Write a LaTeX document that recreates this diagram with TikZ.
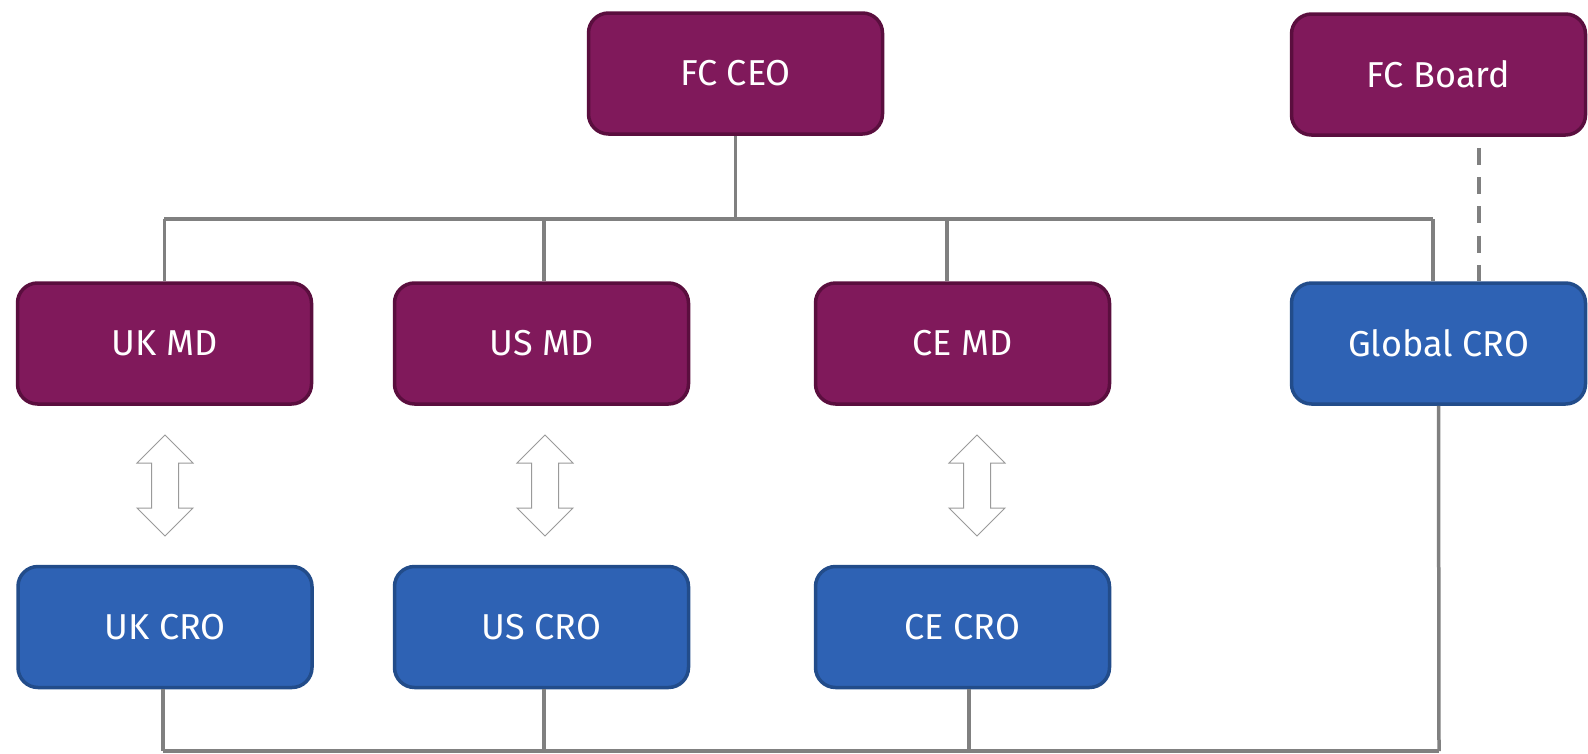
\documentclass[tikz,border=0pt]{standalone}
\usepackage{fontspec}
\setmainfont{Fira Sans}
\usetikzlibrary{calc}
\definecolor{mdfill}{HTML}{80195B}
\definecolor{mdline}{HTML}{5A0E3E}
\definecolor{crofill}{HTML}{2E62B4}
\definecolor{croline}{HTML}{224C8A}
\definecolor{wire}{HTML}{808080}
\definecolor{outline}{HTML}{9A9A9A}
\begin{document}
\begin{tikzpicture}[x=1pt,y=-1pt,
  box/.style={rounded corners=20pt, line width=3.5pt, minimum width=294pt, minimum height=121pt,
    inner sep=0pt, text=white, font=\fontsize{36}{42}\selectfont},
  mdbox/.style={box, fill=mdfill, draw=mdline},
  crobox/.style={box, fill=crofill, draw=croline},
  link/.style={draw=wire, line width=3.5pt},
  dotted link/.style={link, dash pattern=on 17pt off 12.3pt},
  updown/.style={draw=outline, line width=1pt, fill=white}]
\useasboundingbox (0,0) rectangle (1588,753);

% boxes
\node[mdbox] (ceo) at (735.5,73.5) {FC CEO};
\node[mdbox] (board) at (1438.5,74.5) {FC Board};
\node[mdbox] (ukmd) at (164.5,343.5) {UK MD};
\node[mdbox] (usmd) at (541.5,343.5) {US MD};
\node[mdbox] (cemd) at (962.5,343.5) {CE MD};
\node[crobox] (gcro) at (1438.5,343.5) {Global CRO};
\node[crobox] (ukcro) at (165,627) {UK CRO};
\node[crobox] (uscro) at (541.5,627) {US CRO};
\node[crobox] (cecro) at (962.5,627) {CE CRO};

% upper bus from the CEO
\coordinate (busL) at (164,219);
\coordinate (busR) at (1433,219);
\draw[link] (ceo.south) -- (ceo.south |- busL);
\draw[link] (busL) -- (busR);
\draw[link] (ukmd.north) -- (ukmd.north |- busL);
\draw[link] ([xshift=2.5pt]usmd.north) -- ([xshift=2.5pt]usmd.north |- busL);
\draw[link] ([xshift=-15.5pt]cemd.north) -- ([xshift=-15.5pt]cemd.north |- busL);
\draw[link] ([xshift=-5.5pt]gcro.north) -- (busR);

% dotted reporting line to the board
\draw[dotted link] ([xshift=40.5pt,yshift=-11pt]board.south) -- ([xshift=40.5pt]gcro.north);

% lower bus joining the CROs
\coordinate (lowL) at (163,751);
\coordinate (lowR) at (1439,751);
\draw[link] (lowL) -- (lowR);
\draw[link] ([xshift=-2pt]ukcro.south) -- (lowL);
\draw[link] ([xshift=2.5pt]uscro.south) -- ([xshift=2.5pt]uscro.south |- lowL);
\draw[link] ([xshift=6.5pt]cecro.south) -- ([xshift=6.5pt]cecro.south |- lowL);
\draw[link] (gcro.south) -- (lowR);

% two-way arrows between MD and CRO
\coordinate (a1) at (165,485.5);
\coordinate (a2) at (545,485.5);
\coordinate (a3) at (977,485.5);
\foreach \c in {a1,a2,a3}{
  \draw[updown] (\c) +(0,-50.5) -- +(28,-22.5) -- +(13.5,-22.5) -- +(13.5,22.5) -- +(28,22.5)
    -- +(0,50.5) -- +(-28,22.5) -- +(-13.5,22.5) -- +(-13.5,-22.5) -- +(-28,-22.5) -- cycle;
}
\end{tikzpicture}
\end{document}
